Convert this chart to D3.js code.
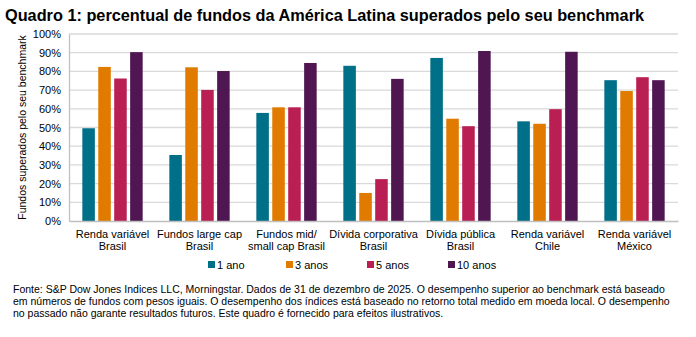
<!DOCTYPE html>
<html>
<head>
<meta charset="utf-8">
<script src="https://cdn.jsdelivr.net/npm/d3@7"></script>
<style>
  body { margin: 0; background: #fff; }
  svg { font-family: "Liberation Sans", Arial, sans-serif; }
</style>
</head>
<body>
<div id="chart"></div>
<script>
// categories (two-line labels) and series
const categories = [
  ["Renda variável", "Brasil"],
  ["Fundos large cap", "Brasil"],
  ["Fundos mid/", "small cap Brasil"],
  ["Dívida corporativa", "Brasil"],
  ["Dívida pública", "Brasil"],
  ["Renda variável", "Chile"],
  ["Renda variável", "México"]
];
const seriesNames = ["1 ano", "3 anos", "5 anos", "10 anos"];
const ano1 = [49.6, 35.3, 57.8, 83.0, 87.2, 53.3, 75.3];
const anos3 = [82.4, 82.2, 60.8, 15.0, 54.7, 52.0, 69.5];
const anos5 = [76.2, 70.1, 60.8, 22.4, 50.7, 59.8, 76.9];
const anos10 = [90.3, 80.2, 84.5, 76.0, 90.9, 90.5, 75.3];
const yTicks = [0, 10, 20, 30, 40, 50, 60, 70, 80, 90, 100];
const colors = ["#006f88", "#e07b00", "#b91f52", "#4f1652"];

const series = [ano1, anos3, anos5, anos10];

const W = 696, H = 337;
const margin = {top: 34, right: 18, bottom: 116, left: 69};
const width = W - margin.left - margin.right;
const height = H - margin.top - margin.bottom;

const svg = d3.select("#chart").append("svg")
  .attr("width", W)
  .attr("height", H);

// title
svg.append("text")
  .attr("x", 5)
  .attr("y", 21)
  .attr("font-size", 16.3)
  .attr("font-weight", "bold")
  .attr("fill", "#000")
  .text("Quadro 1: percentual de fundos da América Latina superados pelo seu benchmark");

const g = svg.append("g")
  .attr("transform", "translate(" + margin.left + "," + margin.top + ")");

const x0 = d3.scaleBand()
  .domain(d3.range(categories.length))
  .range([0, width]);

const x1 = d3.scaleBand()
  .domain(d3.range(seriesNames.length))
  .range([0, x0.bandwidth()])
  .paddingOuter(0.73)
  .paddingInner(0.0);

const y = d3.scaleLinear()
  .domain([0, 100])
  .range([height, 0]);

// gridlines
g.selectAll(".grid")
  .data(yTicks.slice(1))
  .enter().append("line")
  .attr("x1", 0)
  .attr("x2", width)
  .attr("y1", d => y(d))
  .attr("y2", d => y(d))
  .attr("stroke", "#d9d9d9")
  .attr("stroke-width", 1.3);

// bars
categories.forEach((c, i) => {
  const grp = g.append("g").attr("transform", "translate(" + x0(i) + ",0)");
  series.forEach((s, j) => {
    grp.append("rect")
      .attr("x", x1(j) + 1.7)
      .attr("width", x1.bandwidth() - 3.4)
      .attr("y", y(s[i]))
      .attr("height", height - y(s[i]))
      .attr("fill", colors[j]);
  });
});

// y axis
const yAxis = g.append("g")
  .call(d3.axisLeft(y).tickValues(yTicks).tickFormat(d => d + "%").tickSize(0).tickPadding(8));
yAxis.select(".domain").attr("stroke", "#bfbfbf").attr("stroke-width", 1.3);
yAxis.selectAll("text").attr("font-size", 11).attr("fill", "#000")
  .attr("font-family", "Liberation Sans, Arial, sans-serif");

// x axis
const xAxis = g.append("g")
  .attr("transform", "translate(0," + height + ")")
  .call(d3.axisBottom(x0).tickSize(0).tickFormat(""));
xAxis.select(".domain").attr("stroke", "#bfbfbf").attr("stroke-width", 1.3);
xAxis.selectAll(".tick").each(function(d) {
  const t = d3.select(this).append("text")
    .attr("text-anchor", "middle")
    .attr("font-size", 11)
    .attr("fill", "#000")
    .attr("font-family", "Liberation Sans, Arial, sans-serif");
  categories[d].forEach((line, k) => {
    t.append("tspan").attr("x", 0).attr("y", 17 + k * 12.3).text(line);
  });
});

// y axis title
svg.append("text")
  .attr("transform", "translate(26," + (margin.top + height / 2) + ") rotate(-90)")
  .attr("text-anchor", "middle")
  .attr("font-size", 10.5)
  .attr("fill", "#000")
  .text("Fundos superados pelo seu benchmark");

// legend
const legendX = [208, 286, 367, 448];
const legend = svg.append("g");
seriesNames.forEach((name, j) => {
  legend.append("rect")
    .attr("x", legendX[j])
    .attr("y", 261)
    .attr("width", 7)
    .attr("height", 7)
    .attr("fill", colors[j]);
  legend.append("text")
    .attr("x", legendX[j] + 9)
    .attr("y", 268.5)
    .attr("font-size", 11)
    .attr("fill", "#000")
    .text(name);
});

// source note
const notes = [
  "Fonte: S&P Dow Jones Indices LLC, Morningstar. Dados de 31 de dezembro de 2025. O desempenho superior ao benchmark está baseado",
  "em números de fundos com pesos iguais. O desempenho dos índices está baseado no retorno total medido em moeda local. O desempenho",
  "no passado não garante resultados futuros. Este quadro é fornecido para efeitos ilustrativos."
];
notes.forEach((line, k) => {
  svg.append("text")
    .attr("x", 13)
    .attr("y", 292.5 + k * 12)
    .attr("font-size", 10.5)
    .attr("fill", "#000")
    .text(line);
});
</script>
</body>
</html>
